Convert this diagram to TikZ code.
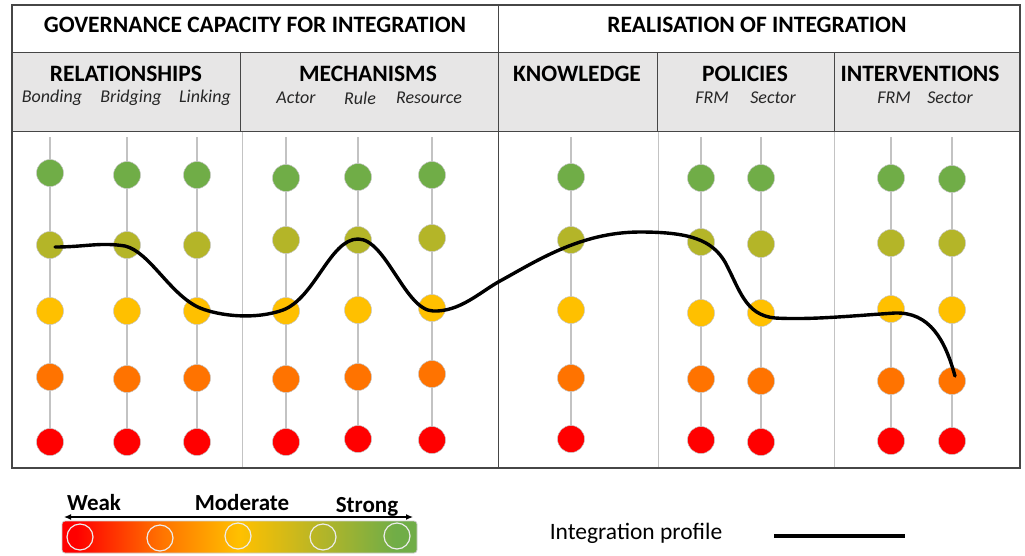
\documentclass[tikz,border=0pt]{standalone}
\usepackage{fontspec}
\setmainfont{Carlito}
\usetikzlibrary{arrows.meta}
\definecolor{cgreen}{RGB}{112,173,71}
\definecolor{colive}{RGB}{180,181,40}
\definecolor{cyellow}{RGB}{255,192,0}
\definecolor{corange}{RGB}{255,115,0}
\definecolor{cred}{RGB}{255,0,0}
\definecolor{hdrgray}{RGB}{231,230,230}
\definecolor{framegray}{RGB}{70,70,70}
\definecolor{linegray}{RGB}{195,195,195}
\pgfdeclarehorizontalshading{legendgrad}{100bp}{color(0bp)=(cred); color(27bp)=(cred); color(39bp)=(corange); color(50bp)=(cyellow); color(61.5bp)=(colive); color(72bp)=(cgreen); color(100bp)=(cgreen)}
\tikzset{
  frame/.style={draw=framegray, line width=1.3pt},
  divider/.style={draw=framegray, line width=1pt},
  bodyline/.style={draw=linegray, line width=1pt},
  vline/.style={draw=linegray, line width=1.6pt},
  dot/.style={circle, minimum size=27pt, inner sep=0pt, draw=black!22, line width=0.5pt},
  legdot/.style={circle, minimum size=26pt, inner sep=0pt, draw=white!85!gray, line width=1.2pt},
  title/.style={font=\fontsize{23.5}{27}\selectfont\bfseries, inner sep=0pt},
  sub/.style={font=\fontsize{18}{21}\selectfont\itshape, inner sep=0pt, text=black!85},
  legtext/.style={font=\fontsize{23}{26}\selectfont\bfseries, inner sep=0pt},
  plain/.style={font=\fontsize{23.5}{27}\selectfont, inner sep=0pt},
  profile/.style={draw=black, line width=3.4pt, line cap=round, line join=round}
}
\begin{document}
\begin{tikzpicture}[x=1pt, y=-1pt]
\useasboundingbox (0,0) rectangle (1025,555);
% header background
\fill[white] (12,5) rectangle (1020,52);
\fill[hdrgray] (12,52) rectangle (1020,131);
% body dividers
\draw[bodyline] (242,131) -- (242,468);
\draw[bodyline] (658,131) -- (658,468);
\draw[bodyline] (834,131) -- (834,468);
% header lines
\draw[divider] (12,52) -- (1020,52);
\draw[divider] (12,131) -- (1020,131);
\draw[divider] (240,52) -- (240,131);
\draw[divider] (657,52) -- (657,131);
\draw[divider] (834,52) -- (834,131);
\draw[divider] (498,5) -- (498,468);
\draw[frame] (12,5) rectangle (1020,468);
% header texts
\node[title] (gov) at (255,25) {GOVERNANCE CAPACITY FOR INTEGRATION};
\node[title] (rea) at (757,25) {REALISATION OF INTEGRATION};
\node[title] (rel) at (126,74) {RELATIONSHIPS};
\node[title] (mec) at (368,74) {MECHANISMS};
\node[title] (kno) at (577,74) {KNOWLEDGE};
\node[title] (pol) at (745,74) {POLICIES};
\node[title] (int) at (920,74) {INTERVENTIONS};
\node[sub] (sbon) at (52,98) {Bonding};
\node[sub] (sbri) at (131,98) {Bridging};
\node[sub] (slin) at (205,98) {Linking};
\node[sub] (sact) at (296,98) {Actor};
\node[sub] (srul) at (360,98) {Rule};
\node[sub] (sres) at (429,98) {Resource};
\node[sub] (spfr) at (712,98) {FRM};
\node[sub] (spse) at (773,98) {Sector};
\node[sub] (sifr) at (894,98) {FRM};
\node[sub] (sise) at (950,98) {Sector};
% columns of dots
\foreach \nm/\x/\ya/\yb/\yc/\yd/\ye in {bon/50/173/245/311/377/442, bri/127/175/245/311/379/442, lin/197/175/245/311/378/442, act/286/178/240/311/379/442, rul/358/177/240/310/377/439, res/432/175/238/308/374/440, knw/571/177/240/310/378/439, pfr/701/178/242/313/379/440, pse/761/178/244/313/381/442, ifr/891/178/243/309/381/441, ise/952/179/243/310/381/441}{
  \draw[vline] (\x,137) -- (\x,\ye);
  \node[dot, fill=cgreen] (\nm-5) at (\x,\ya) {};
  \node[dot, fill=colive] (\nm-4) at (\x,\yb) {};
  \node[dot, fill=cyellow] (\nm-3) at (\x,\yc) {};
  \node[dot, fill=corange] (\nm-2) at (\x,\yd) {};
  \node[dot, fill=cred] (\nm-1) at (\x,\ye) {};
}
% integration profile
\coordinate (p0) at (55,247);
\coordinate (pend) at (955,376);
\draw[profile] (p0) .. controls (85,247) and (100,242) .. (125,246)
  .. controls (150,252) and (170,295) .. (200,308)
  .. controls (220,316) and (255,320) .. (283,310)
  .. controls (315,298) and (330,239) .. (358,239)
  .. controls (386,239) and (405,310) .. (433,311)
  .. controls (460,312) and (480,292) .. (500,281)
  .. controls (535,262) and (580,232) .. (640,232)
  .. controls (690,232) and (712,240) .. (725,262)
  .. controls (740,290) and (745,315) .. (775,318)
  .. controls (810,320) and (850,316) .. (895,313)
  .. controls (930,312) and (945,340) .. (pend);
% legend
\shade[shading=legendgrad, rounded corners=3pt] (62,521) rectangle (417,553);
\draw[draw=black!20, rounded corners=3pt, line width=0.8pt] (62,521) rectangle (417,553);
\node[legdot] (l1) at (80,537) {};
\node[legdot] (l2) at (160,538) {};
\node[legdot] (l3) at (238,536) {};
\node[legdot] (l4) at (323,537) {};
\node[legdot] (l5) at (397,536) {};
\coordinate (aL) at (64,517);
\coordinate (aR) at (413,517);
\draw[{Latex[length=7pt,width=6pt]}-{Latex[length=7pt,width=6pt]}, line width=1.2pt] (aL) -- (aR);
\node[legtext] (weak) at (94,503) {Weak};
\node[legtext] (mod) at (242,503) {Moderate};
\node[legtext] (str) at (367,507) {Strong};
\node[plain] (ip) at (636,533) {Integration profile};
\coordinate (pL) at (774,536);
\coordinate (pR) at (905,536);
\draw[profile, line cap=butt] (pL) -- (pR);
\end{tikzpicture}
\end{document}
